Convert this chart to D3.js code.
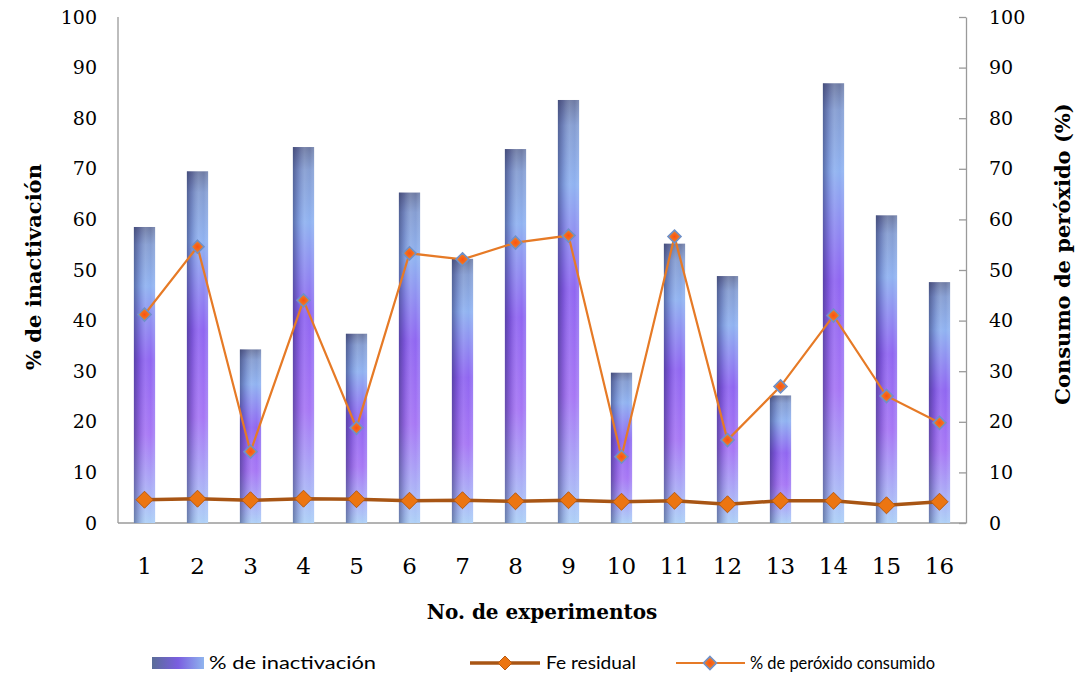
<!DOCTYPE html>
<html>
<head>
<meta charset="utf-8">
<script src="https://cdn.jsdelivr.net/npm/d3@7/dist/d3.min.js"></script>
<style>
  html, body { margin: 0; padding: 0; background: #ffffff; }
  svg { display: block; }
  .tick-label { font-family: "DejaVu Serif", "Liberation Serif", serif; font-size: 19px; fill: #000; }
  .axis-title { font-family: "DejaVu Serif", "Liberation Serif", serif; font-weight: bold; font-size: 21px; fill: #000; }
  .legend-text { font-family: Lato, "Open Sans", sans-serif; font-size: 18px; fill: #000; }
</style>
</head>
<body>
<svg id="chart" width="1078" height="677"></svg>
<script>
// Experiment numbers
const experiments = [1, 2, 3, 4, 5, 6, 7, 8, 9, 10, 11, 12, 13, 14, 15, 16];
// % de inactivación (bars, left axis)
const inactivacion = [58.5, 69.5, 34.3, 74.3, 37.4, 65.3, 52.2, 73.9, 83.6, 29.7, 55.2, 48.8, 25.2, 86.9, 60.8, 47.6];
// Fe residual (line, left axis)
const feResidual = [4.6, 4.8, 4.5, 4.8, 4.7, 4.4, 4.5, 4.3, 4.5, 4.2, 4.4, 3.7, 4.4, 4.4, 3.5, 4.2];
// % de peróxido consumido (line, right axis)
const peroxido = [41.2, 54.6, 14.1, 44.0, 18.8, 53.3, 52.1, 55.4, 56.8, 13.1, 56.6, 16.4, 27.0, 41.0, 25.1, 19.8];
// Axis ticks
const yTicks = [0, 10, 20, 30, 40, 50, 60, 70, 80, 90, 100];

const svg = d3.select("#chart");
const plot = { left: 118, right: 966, top: 17, bottom: 523 };

const x = d3.scaleBand()
  .domain(experiments)
  .range([plot.left, plot.right])
  .paddingInner(0.6)
  .paddingOuter(0.3);
const yLeft = d3.scaleLinear().domain([0, 100]).range([plot.bottom, plot.top]);
const yRight = d3.scaleLinear().domain([0, 100]).range([plot.bottom, plot.top]);

// ---- gradients ----
const defs = svg.append("defs");
const gV = defs.append("linearGradient").attr("id", "barColor")
  .attr("x1", 0).attr("y1", 0).attr("x2", 0).attr("y2", 1);
[[0, "#66739e"], [0.06, "#7f98cf"], [0.2, "#8aaef0"], [0.45, "#8a5ef0"], [0.7, "#a270f4"], [1, "#a9cdf6"]]
  .forEach(([o, c]) => gV.append("stop").attr("offset", o).attr("stop-color", c));
const gH = defs.append("linearGradient").attr("id", "barShade")
  .attr("x1", 0).attr("y1", 0).attr("x2", 1).attr("y2", 0);
[[0, "#1a2050", 0.45], [0.25, "#2a2060", 0.18], [0.55, "#ffffff", 0.12], [0.8, "#ffffff", 0.05], [1, "#c8e0ff", 0.25]]
  .forEach(([o, c, a]) => gH.append("stop").attr("offset", o).attr("stop-color", c).attr("stop-opacity", a));
const gLeg = defs.append("linearGradient").attr("id", "legendSwatch")
  .attr("x1", 0).attr("y1", 0).attr("x2", 1).attr("y2", 0);
[[0, "#5a6d98"], [0.5, "#7a5ee0"], [1, "#8fb4ee"]]
  .forEach(([o, c]) => gLeg.append("stop").attr("offset", o).attr("stop-color", c));
const gMark = defs.append("radialGradient").attr("id", "peroxMark");
[[0, "#ff5010"], [0.55, "#f07020"], [1, "#e89040"]]
  .forEach(([o, c]) => gMark.append("stop").attr("offset", o).attr("stop-color", c));

// ---- axes frame ----
const axisColor = "#9a9a9a";
svg.append("line").attr("x1", plot.left).attr("x2", plot.left)
  .attr("y1", plot.top).attr("y2", plot.bottom).attr("stroke", axisColor).attr("stroke-width", 1.3);
svg.append("line").attr("x1", plot.left).attr("x2", plot.right)
  .attr("y1", plot.bottom).attr("y2", plot.bottom).attr("stroke", axisColor).attr("stroke-width", 1.3);

// Right axis with inward ticks
const rightAxis = d3.axisRight(yRight).tickValues(yTicks).tickSize(0).tickFormat("");
const rAxisG = svg.append("g").attr("transform", `translate(${plot.right},0)`).call(rightAxis);
rAxisG.select(".domain").attr("stroke", axisColor).attr("stroke-width", 1.3);
rAxisG.selectAll(".tick").append("line").attr("x1", -7).attr("x2", 0)
  .attr("stroke", axisColor).attr("stroke-width", 1.3);

// Tick labels
svg.append("g").selectAll("text").data(yTicks).join("text")
  .attr("class", "tick-label")
  .attr("x", 97).attr("y", d => yLeft(d)).attr("dy", "0.35em")
  .attr("text-anchor", "end").text(d => d);
svg.append("g").selectAll("text").data(yTicks).join("text")
  .attr("class", "tick-label")
  .attr("x", 989).attr("y", d => yRight(d)).attr("dy", "0.35em")
  .attr("text-anchor", "start").text(d => d);
svg.append("g").selectAll("text").data(experiments).join("text")
  .attr("class", "tick-label")
  .style("font-size", "23px")
  .attr("x", d => x(d) + x.bandwidth() / 2).attr("y", 566).attr("dy", "0.35em")
  .attr("text-anchor", "middle").text(d => d);

// ---- bars ----
const barG = svg.append("g");
const bars = experiments.map((e, i) => ({ e, v: inactivacion[i] }));
barG.selectAll("rect.base").data(bars).join("rect").attr("class", "base")
  .attr("x", d => x(d.e)).attr("width", x.bandwidth())
  .attr("y", d => yLeft(d.v)).attr("height", d => yLeft(0) - yLeft(d.v))
  .attr("fill", "url(#barColor)");
barG.selectAll("rect.shade").data(bars).join("rect").attr("class", "shade")
  .attr("x", d => x(d.e)).attr("width", x.bandwidth())
  .attr("y", d => yLeft(d.v)).attr("height", d => yLeft(0) - yLeft(d.v))
  .attr("fill", "url(#barShade)");

const cx = e => x(e) + x.bandwidth() / 2;
const diamond = (s) => `M0,${-s}L${s},0L0,${s}L${-s},0Z`;

// ---- % de peróxido consumido ----
const peroxLine = d3.line().x((d, i) => cx(experiments[i])).y(d => yRight(d));
svg.append("path").datum(peroxido).attr("d", peroxLine)
  .attr("fill", "none").attr("stroke", "#e67a26").attr("stroke-width", 2.2);
svg.append("g").selectAll("path").data(peroxido).join("path")
  .attr("transform", (d, i) => `translate(${cx(experiments[i])},${yRight(d)})`)
  .attr("d", diamond(6.5))
  .attr("fill", "url(#peroxMark)").attr("stroke", "#6f90c8").attr("stroke-width", 1.6);

// ---- Fe residual ----
const feLine = d3.line().x((d, i) => cx(experiments[i])).y(d => yLeft(d));
svg.append("path").datum(feResidual).attr("d", feLine)
  .attr("fill", "none").attr("stroke", "#a85514").attr("stroke-width", 3.5);
svg.append("g").selectAll("path").data(feResidual).join("path")
  .attr("transform", (d, i) => `translate(${cx(experiments[i])},${yLeft(d)})`)
  .attr("d", diamond(8.5))
  .attr("fill", "#ec7511").attr("stroke", "#b85a10").attr("stroke-width", 1);

// ---- axis titles ----
svg.append("text").attr("class", "axis-title")
  .attr("transform", "translate(41,267) rotate(-90)")
  .attr("text-anchor", "middle").text("% de inactivación");
svg.append("text").attr("class", "axis-title")
  .attr("transform", "translate(1070,254) rotate(-90)")
  .attr("text-anchor", "middle").text("Consumo de peróxido (%)");
svg.append("text").attr("class", "axis-title")
  .style("font-size", "20px")
  .attr("x", 542).attr("y", 619).attr("text-anchor", "middle").text("No. de experimentos");

// ---- legend ----
const lg = svg.append("g");
const ly = 663;
lg.append("rect").attr("x", 152).attr("y", ly - 6).attr("width", 52).attr("height", 12).attr("fill", "url(#legendSwatch)");
lg.append("text").attr("class", "legend-text").attr("x", 209).attr("y", ly).attr("dy", "0.35em")
  .attr("textLength", 167).attr("lengthAdjust", "spacingAndGlyphs").text("% de inactivación");

lg.append("line").attr("x1", 470).attr("x2", 540).attr("y1", ly).attr("y2", ly)
  .attr("stroke", "#a85514").attr("stroke-width", 3.5);
lg.append("path").attr("transform", `translate(505,${ly})`).attr("d", diamond(7))
  .attr("fill", "#ec7511").attr("stroke", "#b85a10").attr("stroke-width", 1);
lg.append("text").attr("class", "legend-text").attr("x", 546).attr("y", ly).attr("dy", "0.35em")
  .attr("textLength", 90).attr("lengthAdjust", "spacingAndGlyphs").text("Fe residual");

lg.append("line").attr("x1", 676).attr("x2", 745).attr("y1", ly).attr("y2", ly)
  .attr("stroke", "#e67a26").attr("stroke-width", 2.2);
lg.append("path").attr("transform", `translate(710,${ly})`).attr("d", diamond(6.5))
  .attr("fill", "url(#peroxMark)").attr("stroke", "#6f90c8").attr("stroke-width", 1.6);
lg.append("text").attr("class", "legend-text").attr("x", 750).attr("y", ly).attr("dy", "0.35em")
  .attr("textLength", 185).attr("lengthAdjust", "spacingAndGlyphs").text("% de peróxido consumido");
</script>
</body>
</html>
